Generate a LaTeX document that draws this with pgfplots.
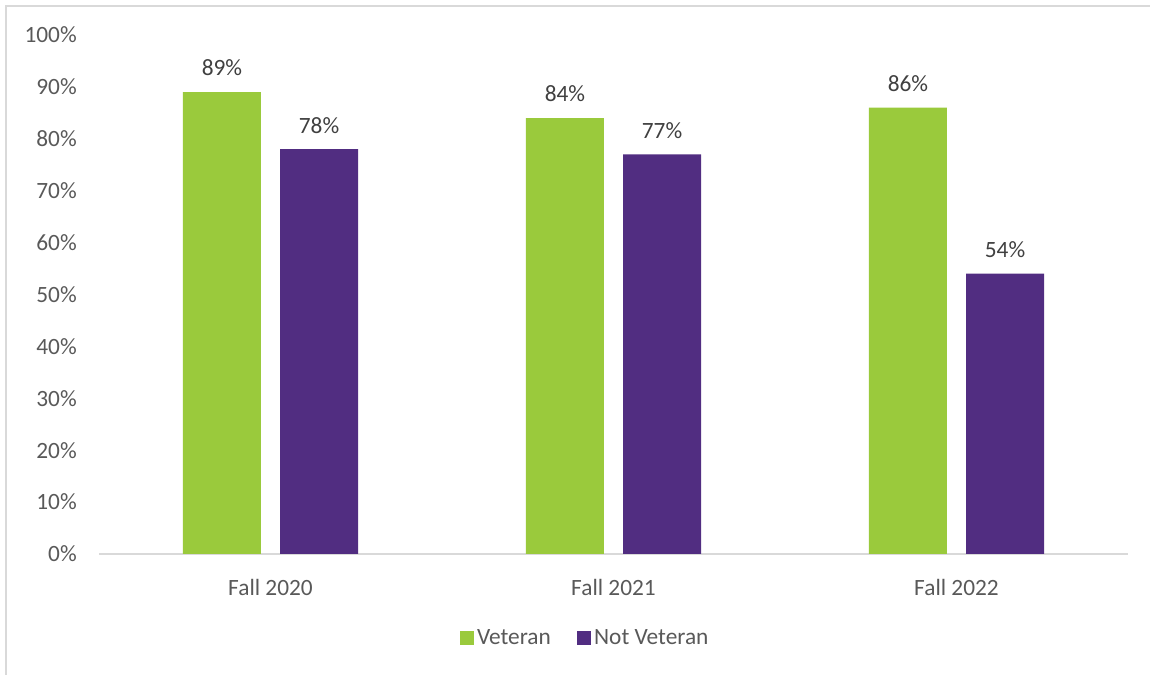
\documentclass[border=0pt]{standalone}
\usepackage{fontspec}
\setmainfont{Carlito}
\usepackage{pgfplots}
\pgfplotsset{compat=1.18}
\definecolor{vgreen}{HTML}{9ACA3C}
\definecolor{vpurple}{HTML}{512D81}
\definecolor{axgray}{HTML}{D9D9D9}
\definecolor{tickgray}{HTML}{595959}
\definecolor{labgray}{HTML}{404040}
\newcommand\cf{\fontsize{17.5pt}{21pt}\selectfont}
\begin{document}
\begin{tikzpicture}[font=\cf]
\useasboundingbox (0,0) rectangle (862.5pt,506.25pt);
\draw[axgray, line width=1.5pt] (4.5pt,-20pt) rectangle (880pt,501.75pt);
\begin{axis}[
  at={(74.25pt,90.75pt)}, anchor=south west,
  scale only axis, width=771.75pt, height=389.25pt,
  xmin=-0.5, xmax=2.5, ymin=0, ymax=100,
  ybar, bar width=58.5pt,
  xtick={0,1,2}, xticklabels={Fall 2020, Fall 2021, Fall 2022},
  ytick={0,10,...,100},
  yticklabel={\pgfmathprintnumber{\tick}\%},
  /pgf/number format/assume math mode=true,
  major tick length=0pt,
  axis x line*=bottom, axis y line*=left,
  x axis line style={draw=axgray, line width=1.5pt, -},
  y axis line style={draw=none},
  tick label style={font=\cf, text=tickgray},
  yticklabel style={anchor=east, inner sep=0pt, xshift=-16.5pt},
  xticklabel style={anchor=center, inner sep=0pt, yshift=-24.75pt},
  nodes near coords={\pgfmathprintnumber{\pgfplotspointmeta}\%},
  nodes near coords style={font=\cf, text=labgray, anchor=center, inner sep=0pt, yshift=18pt, /pgf/number format/assume math mode=true},
  legend columns=2,
  legend style={at={(0.473,-0.162)}, anchor=center, draw=none, font=\cf, text=tickgray,
    /tikz/every even column/.append style={column sep=18pt}, inner sep=0pt},
  legend image code/.code={\fill[#1] (0pt,-5.25pt) rectangle (10.5pt,5.25pt);},
]
\addplot[fill=vgreen, draw=none, bar shift=-36.4pt] coordinates {(0,89) (1,84) (2,86)};
\addplot[fill=vpurple, draw=none, bar shift=36.4pt] coordinates {(0,78) (1,77) (2,54)};
\legend{Veteran, Not Veteran}
\end{axis}
\end{tikzpicture}
\end{document}
